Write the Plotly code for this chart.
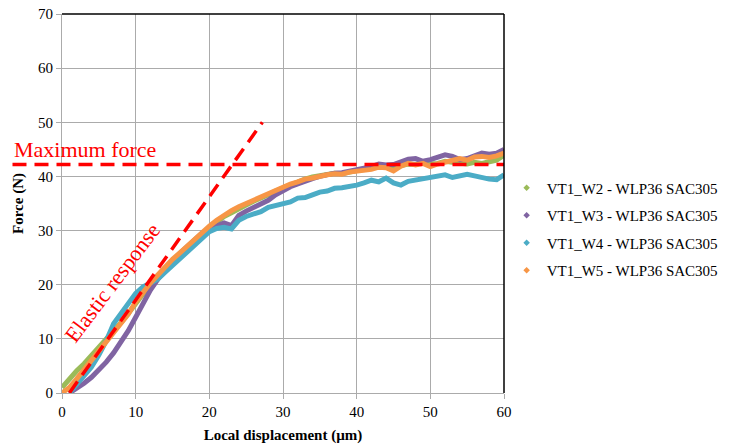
import plotly.graph_objects as go

displacement = list(range(0, 61))

w2_force = [1.0, 2.6, 4.1, 5.4, 6.9, 8.4, 9.8, 11.3, 13.0, 14.7, 16.6, 18.3, 19.8, 21.2, 22.8, 24.2,
            25.6, 27.0, 28.2, 29.4, 30.5, 31.5, 32.6, 33.3, 34.1, 34.7, 35.4, 35.9, 36.6, 37.3, 37.9,
            38.5, 39.0, 39.5, 39.9, 40.1, 40.4, 40.6, 40.5, 40.9, 41.1, 41.4, 41.5, 41.9, 41.8, 41.4,
            42.0, 42.3, 42.2, 42.6, 42.3, 42.4, 42.8, 42.6, 42.5, 42.3, 42.6, 42.4, 42.7, 43.0, 43.9]

w3_force = [None, 0.0, 0.8, 1.8, 2.9, 4.2, 5.7, 7.4, 9.3, 11.5, 14.0, 16.6, 19.0, 21.0, 22.8, 24.4,
            25.8, 27.1, 28.4, 29.5, 30.3, 30.8, 31.4, 30.9, 32.8, 33.6, 34.3, 34.8, 35.6, 36.6, 37.4,
            38.1, 38.6, 39.2, 39.6, 40.0, 40.4, 40.6, 40.7, 41.0, 41.1, 41.6, 41.8, 42.3, 42.1, 42.2,
            42.6, 43.2, 43.3, 42.8, 43.1, 43.6, 44.0, 43.7, 43.1, 43.3, 43.9, 44.3, 44.1, 44.3, 45.0]

w4_force = [None, 0.0, 1.5, 3.0, 4.8, 7.0, 9.6, 12.8, 14.8, 16.8, 18.4, 19.6, 20.4, 21.0, 22.3, 23.6,
            24.8, 25.9, 27.2, 28.6, 29.8, 30.4, 30.6, 30.3, 31.9, 32.6, 33.1, 33.5, 34.3, 34.6, 35.0,
            35.3, 36.0, 36.1, 36.6, 37.1, 37.3, 37.8, 37.9, 38.1, 38.4, 38.8, 39.3, 39.0, 39.7, 38.8,
            38.4, 39.1, 39.3, 39.6, 39.8, 39.9, 40.3, 39.8, 40.2, 40.4, 40.1, 39.7, 39.5, 39.4, 40.3]

w5_force = [0.0, 1.0, 2.6, 4.3, 6.0, 7.7, 9.3, 11.0, 12.7, 14.6, 16.8, 18.6, 20.3, 21.8, 23.3, 24.7,
            25.9, 27.2, 28.4, 29.7, 30.8, 31.9, 32.9, 33.7, 34.4, 35.0, 35.6, 36.3, 36.9, 37.6, 38.2,
            38.6, 39.0, 39.5, 39.7, 40.1, 40.3, 40.5, 40.4, 40.8, 40.9, 41.2, 41.3, 41.7, 41.6, 41.0,
            41.9, 42.4, 42.1, 42.4, 41.8, 42.3, 42.7, 42.9, 43.3, 43.0, 43.6, 43.7, 43.5, 43.8, 44.3]

series_names = ["VT1_W2 - WLP36 SAC305", "VT1_W3 - WLP36 SAC305",
                "VT1_W4 - WLP36 SAC305", "VT1_W5 - WLP36 SAC305"]
series_values = [w2_force, w3_force, w4_force, w5_force]
series_colors = ["#9BBB59", "#8064A2", "#4BACC6", "#F79646"]

max_force = 42.2
elastic_start = [1.0, 0.0]
elastic_end = [27.2, 50.0]

x_ticks = [0, 10, 20, 30, 40, 50, 60]
y_ticks = [0, 10, 20, 30, 40, 50, 60, 70]

FONT = "Liberation Serif, Times New Roman, serif"

fig = go.Figure()
for name, vals, col in zip(series_names, series_values, series_colors):
    fig.add_trace(go.Scatter(x=displacement, y=vals, mode="lines",
                             line=dict(color=col, width=5), showlegend=False,
                             hoverinfo="skip"))
for i, (name, col) in enumerate(zip(series_names, series_colors)):
    fig.add_trace(go.Scatter(x=[None], y=[None], mode="markers", name=name,
                             legendgroup="g%d" % i,
                             marker=dict(color=col, size=5, symbol="diamond")))

red = "#FF0000"
fig.add_shape(type="line", xref="paper", yref="y", x0=-0.112, x1=1.0,
              y0=max_force, y1=max_force,
              line=dict(color=red, width=3.5, dash="14px,8px"))
fig.add_shape(type="line", xref="x", yref="y", x0=elastic_start[0], y0=elastic_start[1],
              x1=elastic_end[0], y1=elastic_end[1],
              line=dict(color=red, width=3.5, dash="14px,8px"))
# frame top/right
fig.add_shape(type="line", xref="paper", yref="paper", x0=0, x1=1, y0=1, y1=1,
              line=dict(color="#000000", width=1.5))
fig.add_shape(type="line", xref="paper", yref="paper", x0=1, x1=1, y0=0, y1=1,
              line=dict(color="#000000", width=1.5))

fig.add_annotation(text="Maximum force", xref="paper", yref="y", x=-0.114, y=44.9,
                   xanchor="left", yanchor="middle", showarrow=False,
                   font=dict(family=FONT, size=22, color=red))
fig.add_annotation(text="Elastic response", xref="x", yref="y", x=6.85, y=20.4,
                   xanchor="center", yanchor="middle", showarrow=False, textangle=-53,
                   font=dict(family=FONT, size=22, color=red))

axis_common = dict(showgrid=True, gridcolor="#ABABAB", gridwidth=1, zeroline=False,
                   showline=True, linecolor="#ABABAB", linewidth=1, automargin=False,
                   ticks="outside", ticklen=5, tickcolor="#ABABAB",
                   tickfont=dict(family=FONT, size=15, color="#000000"))

fig.update_layout(
    width=736, height=446,
    margin=dict(l=62, r=232, t=14, b=53),
    paper_bgcolor="white", plot_bgcolor="white",
    font=dict(family=FONT, color="#000000"),
    xaxis=dict(range=[0, 60], tickvals=x_ticks,
               title=dict(text="<b>Local displacement (µm)</b>", standoff=10,
                          font=dict(family=FONT, size=15, color="#000000")),
               **axis_common),
    yaxis=dict(range=[0, 70], tickvals=y_ticks,
               title=dict(text="<b>Force (N)</b>", standoff=10,
                          font=dict(family=FONT, size=15, color="#000000")),
               **axis_common),
    legend=dict(x=1.006, y=0.433, xanchor="left", yanchor="middle",
                font=dict(family=FONT, size=15, color="#000000"),
                traceorder="grouped", tracegroupgap=5, itemwidth=30,
                bgcolor="rgba(0,0,0,0)"),
)

fig.write_html("out.html", config={"displayModeBar": False},
               post_script="document.body.style.margin='0px';document.body.style.overflow='hidden';")
